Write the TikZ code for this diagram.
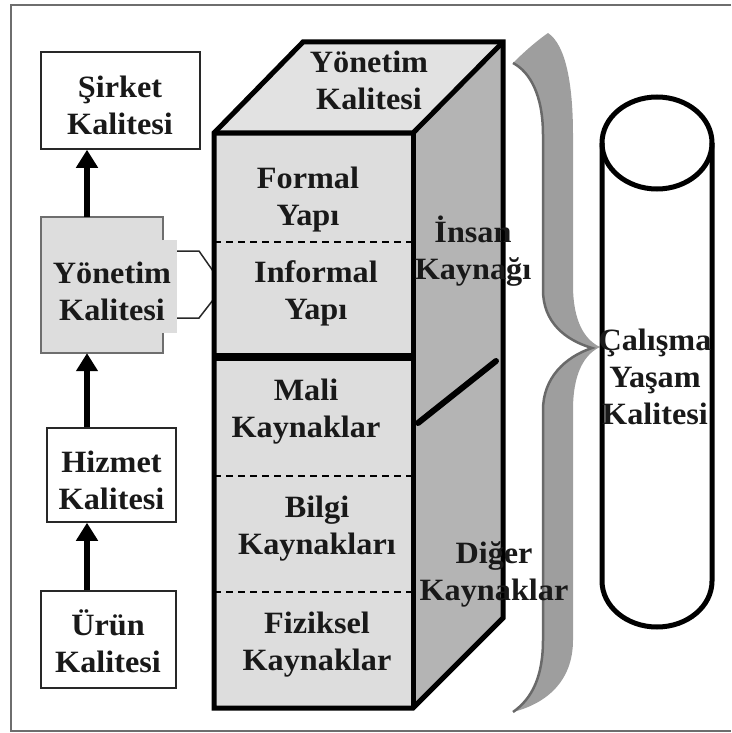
\documentclass[tikz,border=0pt]{standalone}
\usepackage{fontspec}
\setmainfont{Liberation Serif}[FakeStretch=1.04]
\usetikzlibrary{arrows.meta}
\definecolor{facegray}{RGB}{221,221,221}
\definecolor{topgray}{RGB}{226,226,226}
\definecolor{sidegray}{RGB}{180,180,180}
\definecolor{bracegray}{RGB}{158,158,158}
\definecolor{braceedge}{RGB}{105,105,105}
\definecolor{framec}{RGB}{110,110,110}
\definecolor{textblack}{RGB}{25,25,25}
\definecolor{boxline}{RGB}{40,40,40}
\newcommand\mystrut{\rule{0pt}{26pt}}
\begin{document}
\begin{tikzpicture}[x=1pt,y=-1pt,
  lbl/.style={font=\fontsize{31}{37}\selectfont\bfseries, text=textblack, align=center, inner sep=0pt, anchor=north},
  qbox/.style={draw=boxline, line width=1.5pt, fill=white, inner sep=0pt},
  arr/.style={line width=6pt, -{Triangle[width=21pt,length=18pt]}},
  conn/.style={draw=boxline, line width=1.5pt},
  dashline/.style={line width=1.5pt, dash pattern=on 7pt off 5pt},
  edge/.style={line width=5pt, line join=miter}]
\useasboundingbox (0,0) rectangle (731,733);
% frame
\draw[framec, line width=2pt] (731,5) -- (11,5) -- (11,731) -- (731,731);

% left column
\coordinate (ax) at (87,0);
\node[qbox, minimum width=159pt, minimum height=97pt] (sirket) at (120.5,100.5) {};
\node[fill=facegray, minimum width=122pt, minimum height=136pt, inner sep=0pt] (yon) at (102,285) {};
\fill[facegray] (162,240) rectangle (177,333);
\draw[draw=framec, line width=1.5pt] (163,240) -- (163,217) -- (41,217) -- (41,353) -- (163,353) -- (163,333);
\node[qbox, minimum width=129pt, minimum height=94pt] (hizmet) at (111.5,475) {};
\node[qbox, minimum width=135pt, minimum height=97pt] (urun) at (108.5,639.5) {};

\draw[arr] (yon.north -| ax) -- (sirket.south -| ax);
\draw[arr] (hizmet.north -| ax) -- (yon.south -| ax);
\draw[arr] (urun.north -| ax) -- (hizmet.south -| ax);

\draw[conn] (177,251) -- (199,251) -- (213,271);
\draw[conn] (177,318) -- (199,318) -- (213,300);

% main block
\fill[topgray] (214,133) -- (303,42) -- (503,42) -- (413,133) -- cycle;
\fill[sidegray] (413,133) -- (503,42) -- (503,618) -- (413,708) -- cycle;
\fill[facegray] (214,133) rectangle (413,708);
\draw[dashline] (214,242) -- (413,242);
\draw[dashline] (214,476) -- (413,476);
\draw[dashline] (214,592) -- (413,592);
\draw[line width=8pt] (214,357) -- (413,357);
\draw[line width=6pt, line cap=round] (418,423) -- (496,361);
\draw[edge] (214,133) -- (303,42) -- (503,42) -- (503,618) -- (413,708) -- (214,708) -- cycle;
\draw[edge] (214,133) -- (413,133) -- (503,42);
\draw[edge] (413,133) -- (413,708);

% brace
\fill[bracegray] (513,63) .. controls (526,50) and (538,40) .. (548,33)
 .. controls (566,45) and (573,85) .. (573,135)
 -- (573,285)
 .. controls (573,322) and (585,340) .. (600,347)
 .. controls (585,354) and (573,372) .. (573,410)
 -- (573,640)
 .. controls (573,680) and (548,703) .. (513,712)
 .. controls (533,698) and (543,675) .. (543,640)
 -- (543,410)
 .. controls (543,378) and (565,357) .. (592,348)
 .. controls (565,340) and (543,322) .. (543,290)
 -- (543,135)
 .. controls (543,95) and (530,72) .. (513,63) -- cycle;
\draw[braceedge, line width=2.5pt] (513,63) .. controls (530,72) and (543,95) .. (543,135) -- (543,290)
 .. controls (543,322) and (565,340) .. (592,348)
 .. controls (565,357) and (543,378) .. (543,410) -- (543,640)
 .. controls (543,675) and (533,698) .. (513,712);

% cylinder
\draw[line width=5pt] (657,143) ellipse [x radius=55, y radius=46];
\draw[line width=5pt] (602,143) -- (602,581)
 .. controls (602,606.4) and (626.6,627) .. (657,627)
 .. controls (687.4,627) and (712,606.4) .. (712,581) -- (712,143);

% labels
\node[lbl] (tsirket) at (120,97-26) {\mystrut Şirket\\Kalitesi};
\node[lbl] (tyon) at (112,283-26) {\mystrut Yönetim\\Kalitesi};
\node[lbl] (thizmet) at (111.5,472-26) {\mystrut Hizmet\\Kalitesi};
\node[lbl] (turun) at (108,635-26) {\mystrut Ürün\\Kalitesi};
\node[lbl] (ttop) at (369,72-26) {\mystrut Yönetim\\Kalitesi};
\node[lbl] (tformal) at (308,188-26) {\mystrut Formal\\Yapı};
\node[lbl] (tinformal) at (316,282-26) {\mystrut Informal\\Yapı};
\node[lbl] (tmali) at (306,400-26) {\mystrut Mali\\Kaynaklar};
\node[lbl] (tbilgi) at (317,517-26) {\mystrut Bilgi\\Kaynakları};
\node[lbl] (tfiz) at (317,633-26) {\mystrut Fiziksel\\Kaynaklar};
\node[lbl] (tinsan) at (473,242-26) {\mystrut İnsan\\Kaynağı};
\node[lbl] (tdiger) at (494,563-26) {\mystrut Diğer\\Kaynaklar};
\node[lbl] (tcyl) at (655,350-26) {\mystrut Çalışma\\Yaşam\\Kalitesi};
\end{tikzpicture}
\end{document}
